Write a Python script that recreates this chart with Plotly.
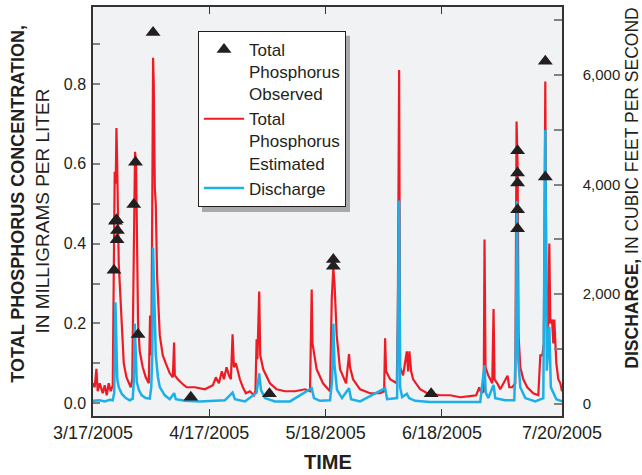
import pandas as pd
import plotly.graph_objects as go

START = "2005-03-17"
END = "2005-07-20"
TICK_DATES = ["2005-03-17", "2005-04-17", "2005-05-18", "2005-06-18", "2005-07-20"]
TICK_TEXT = ["3/17/2005", "4/17/2005", "5/18/2005", "6/18/2005", "7/20/2005"]

# Total phosphorus estimated (mg/L): days since START, value
tp_est_day = [0, 0.45, 0.91, 1.25, 1.79, 2.59, 3.12, 3.66, 4.19, 4.72, 5.26, 5.52, 5.79, 6.06, 6.25, 6.41,
              6.59, 6.86, 7.13, 7.66, 8.20, 8.91, 9.53, 10.06, 10.46, 10.68, 10.94, 11.21, 11.48, 11.66,
              12.01, 12.46, 13.26, 14.06, 14.87, 15.21, 15.53, 15.80, 16.01, 16.20, 16.47, 16.73, 17.08,
              17.80, 18.60, 19.40, 20.47, 21.27, 21.62, 21.80, 22.60, 23.67, 24.93, 27.14, 29.81, 31.94,
              32.75, 33.55, 34.35, 34.88, 35.60, 36.22, 36.75, 37.20, 37.55, 38.08, 38.62, 39.15, 39.95,
              40.75, 41.82, 42.89, 43.29, 43.61, 43.82, 44.30, 44.57, 45.37, 47.16, 48.95, 51.16, 53.83,
              56.50, 57.84, 58.29, 58.50, 59.62, 61.30, 63.17, 63.63, 64.05, 64.37, 64.96, 65.84, 67.44,
              68.24, 68.51, 69.31, 71.18, 73.85, 76.52, 77.59, 77.86, 78.12, 79.19, 80.97, 81.24, 81.59,
              81.85, 82.65, 83.64, 83.99, 84.33, 84.79, 85.32, 87.19, 89.06, 92.53, 95.20, 97.87, 100.54,
              102.14, 102.94, 103.48, 104.14, 104.35, 104.62, 105.34, 106.41, 106.76, 107.02, 107.74,
              108.54, 109.35, 109.88, 110.49, 110.94, 111.74, 112.55, 112.89, 113.16, 113.43, 113.88,
              114.68, 115.75, 117.35, 118.69, 119.22, 119.76, 120.15, 120.55, 120.82, 121.22, 121.62,
              121.89, 122.34, 122.69, 122.95, 123.49, 124.02, 124.56, 125.0]
tp_est_val = [0.05, 0.04, 0.086, 0.03, 0.05, 0.025, 0.045, 0.02, 0.05, 0.03, 0.045, 0.30, 0.58, 0.55, 0.69, 0.62,
              0.45, 0.35, 0.30, 0.18, 0.10, 0.065, 0.05, 0.04, 0.06, 0.25, 0.50, 0.63, 0.60, 0.40,
              0.20, 0.13, 0.09, 0.065, 0.05, 0.22, 0.12, 0.50, 0.866, 0.80, 0.54, 0.50, 0.32,
              0.17, 0.12, 0.10, 0.075, 0.065, 0.152, 0.07, 0.06, 0.05, 0.04, 0.04, 0.035, 0.045,
              0.065, 0.05, 0.08, 0.06, 0.09, 0.07, 0.06, 0.173, 0.09, 0.10, 0.08, 0.06, 0.04,
              0.025, 0.03, 0.02, 0.03, 0.16, 0.11, 0.28, 0.12, 0.085, 0.05, 0.035, 0.03, 0.03,
              0.035, 0.03, 0.285, 0.15, 0.085, 0.05, 0.03, 0.26, 0.34, 0.30, 0.17, 0.085, 0.05,
              0.123, 0.09, 0.06, 0.035, 0.025, 0.025, 0.03, 0.163, 0.08, 0.06, 0.05, 0.22, 0.835,
              0.09, 0.07, 0.13, 0.08, 0.13, 0.08, 0.06, 0.035, 0.025, 0.02, 0.02, 0.015, 0.018,
              0.02, 0.04, 0.025, 0.03, 0.41, 0.09, 0.07, 0.05, 0.236, 0.06, 0.05,
              0.035, 0.05, 0.06, 0.069, 0.04, 0.04, 0.05, 0.706, 0.60, 0.17, 0.09,
              0.06, 0.04, 0.025, 0.02, 0.12, 0.12, 0.15, 0.806, 0.30, 0.15, 0.40,
              0.20, 0.21, 0.15, 0.21, 0.10, 0.06, 0.05, 0.03]

# Discharge (cubic feet per second): days since START, value
q_day = [0, 1.79, 3.12, 4.46, 5.26, 5.66, 5.98, 6.19, 6.46, 6.86, 7.66, 8.73, 9.79, 10.59, 10.86, 11.13,
         11.40, 11.66, 12.20, 13.00, 14.06, 15.13, 15.53, 15.80, 16.01, 16.28, 16.73, 17.27, 17.80,
         19.13, 20.47, 21.62, 22.07, 24.47, 28.48, 32.48, 35.15, 37.20, 37.82, 40.49, 43.61, 44.30,
         44.76, 45.82, 48.49, 52.50, 58.29, 58.90, 60.50, 63.17, 63.70, 64.05, 64.37, 65.04, 66.37,
         68.24, 68.78, 71.18, 77.86, 78.39, 81.05, 81.59, 81.85, 82.39, 83.64, 84.25, 85.85, 89.86,
         95.20, 103.21, 104.35, 104.67, 105.34, 106.76, 107.21, 109.88, 112.28, 112.68, 113.00,
         113.35, 113.88, 115.21, 117.88, 120.02, 120.55, 120.95, 121.62, 122.02, 122.69, 123.49, 125.0]
q_val = [50, 60, 40, 70, 60, 200, 1850, 900, 450, 300, 180, 100, 60, 90, 400, 1460,
         900, 400, 250, 150, 100, 90, 300, 900, 2850, 1880, 900, 500, 300,
         150, 80, 190, 80, 50, 40, 50, 60, 200, 80, 40, 200, 550,
         250, 100, 40, 40, 280, 100, 50, 60, 400, 1460, 700, 250, 100,
         280, 80, 40, 280, 80, 100, 3710, 300, 120, 180, 100, 50, 30,
         35, 30, 700, 200, 100, 340, 100, 60, 60, 1000, 3700,
         800, 300, 100, 40, 100, 5000, 600, 1400, 300, 200, 80, 40]

# Total phosphorus observed samples (mg/L)
tp_obs_day = [5.60, 5.98, 6.25, 6.51, 6.41, 10.86, 11.32, 12.01, 16.01, 26.07, 47.02, 64.05, 64.05, 90.13,
              113.16, 113.16, 113.16, 113.16, 113.16, 120.55, 120.55]
tp_obs_val = [0.333, 0.456, 0.46, 0.433, 0.41, 0.498, 0.604, 0.172, 0.929, 0.015, 0.024, 0.36, 0.343, 0.024,
              0.633, 0.577, 0.552, 0.485, 0.437, 0.857, 0.567]

start = pd.Timestamp(START)
def to_dates(days):
    return start + pd.to_timedelta(days, unit="D")

SANS = "Liberation Sans, Arial, Helvetica, sans-serif"
INK = "#231f20"

fig = go.Figure()
fig.add_trace(go.Scatter(x=to_dates(tp_est_day), y=tp_est_val, mode="lines",
                         line=dict(color="#ed1c24", width=2.2), name="Total<br>Phosphorus<br>Estimated",
                         yaxis="y", legendrank=2))
fig.add_trace(go.Scatter(x=to_dates(q_day), y=q_val, mode="lines",
                         line=dict(color="#1cb0e8", width=2.5), name="Discharge",
                         yaxis="y2", legendrank=3))
fig.add_trace(go.Scatter(x=to_dates(tp_obs_day), y=tp_obs_val, mode="markers",
                         marker=dict(symbol="triangle-up", size=13, color=INK),
                         name="Total<br>Phosphorus<br>Observed", yaxis="y3", legendrank=1))

y1_range = [-0.032, 0.993]
fig.update_layout(
    width=642, height=475,
    margin=dict(l=93, r=80, t=5, b=59),
    paper_bgcolor="white", plot_bgcolor="#f1f2f4",
    showlegend=True,
    legend=dict(x=0.2239, y=0.9416, xanchor="left", yanchor="top", bgcolor="white",
                bordercolor=INK, borderwidth=1, font=dict(family=SANS, size=17, color=INK),
                itemwidth=40, tracegroupgap=0, valign="top"),
    xaxis=dict(type="date", range=[START, END], tickvals=TICK_DATES, ticktext=TICK_TEXT,
               ticks="inside", ticklen=7, tickcolor="#333", tickwidth=1.2,
               showline=True, linecolor="#333", linewidth=1.5, mirror="ticks",
               showgrid=False, zeroline=False,
               tickfont=dict(family=SANS, size=18, color=INK)),
    yaxis=dict(range=y1_range, tickvals=[i / 10 for i in range(10)],
               ticktext=["0.0", "", "0.2", "", "0.4", "", "0.6", "", "0.8", ""],
               ticks="inside", ticklen=7, tickcolor="#808285", tickwidth=1.5,
               showline=True, linecolor="#333", linewidth=1.5, showgrid=False, zeroline=False,
               ticklabelstandoff=2,
               tickfont=dict(family=SANS, size=16, color=INK)),
    yaxis2=dict(overlaying="y", side="right", range=[-227, 7245],
                tickvals=[i * 1000 for i in range(8)],
                ticktext=["0", "", "2,000", "", "4,000", "", "6,000", ""],
                ticks="inside", ticklen=8, tickcolor="#808285", tickwidth=1.5,
                showline=True, linecolor="#333", linewidth=1.5, showgrid=False, zeroline=False,
                ticklabelstandoff=16,
                tickfont=dict(family=SANS, size=15, color=INK)),
    yaxis3=dict(overlaying="y", range=y1_range, visible=False),
    annotations=[
        dict(text="<b>TOTAL PHOSPHORUS CONCENTRATION,</b>", xref="paper", yref="paper",
             x=-0.1588, y=0.518, xanchor="center", yanchor="middle", textangle=-90,
             showarrow=False, font=dict(family=SANS, size=18, color=INK)),
        dict(text="IN MILLIGRAMS PER LITER", xref="paper", yref="paper",
             x=-0.1077, y=0.501, xanchor="center", yanchor="middle", textangle=-90,
             showarrow=False, font=dict(family=SANS, size=19, color=INK)),
        dict(text="<b>DISCHARGE,</b> IN CUBIC FEET PER SECOND", xref="paper", yref="paper",
             x=1.149, y=0.558, xanchor="center", yanchor="middle", textangle=-90,
             showarrow=False, font=dict(family=SANS, size=17.5, color=INK)),
        dict(text="<b>TIME</b>", xref="paper", yref="paper", x=0.5, y=-0.112,
             xanchor="center", yanchor="middle", showarrow=False,
             font=dict(family=SANS, size=20, color=INK)),
    ],
    shapes=[
        dict(type="rect", xref="paper", yref="paper", x0=(202 - 93) / 469, x1=(350 - 93) / 469,
             y0=(416 - 211) / 411, y1=(416 - 34) / 411, fillcolor="#a7a9ac", line=dict(width=0),
             layer="above"),
    ],
)

fig.write_html("out.html")
